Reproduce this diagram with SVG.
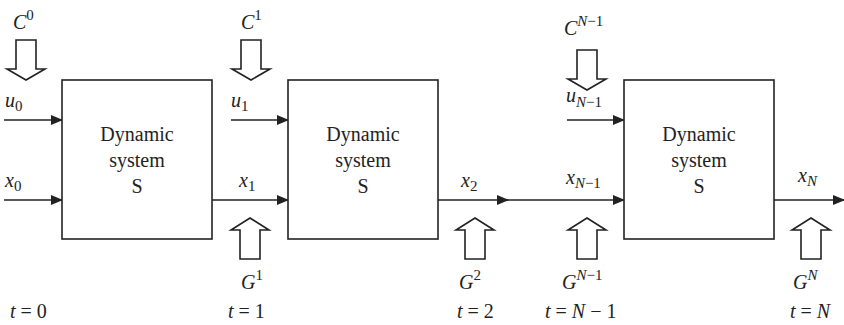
<svg xmlns="http://www.w3.org/2000/svg" width="844" height="325" viewBox="0 0 844 325">
<style>
.box{fill:#fff;stroke:#222;stroke-width:1.6}
.ln{stroke:#222;stroke-width:1.5;fill:none}
.hol{fill:#fff;stroke:#222;stroke-width:1.6;stroke-linejoin:miter}
.t{font-family:"Liberation Serif","Times New Roman",serif;font-size:20px;fill:#222;text-anchor:middle}
.v{font-family:"Liberation Serif","Times New Roman",serif;font-size:20px;font-style:italic;fill:#222}
.s{font-size:15px;font-style:normal}
.si{font-size:15px}
.up{font-style:normal}
</style>
<defs>
<marker id="ah" markerWidth="12" markerHeight="10" refX="11" refY="5" orient="auto" markerUnits="userSpaceOnUse">
<path d="M0,0 L12,5 L0,10 Z" fill="#222"/>
</marker>
<polygon id="down" points="-10,0 10,0 10,29 19,29 0,40 -19,29 -10,29"/>
<polygon id="upa" points="0,0 19,12 10,12 10,41 -10,41 -10,12 -19,12"/>
</defs>
<g id="connectors">
<line class="ln" x1="4" y1="120" x2="62" y2="120" marker-end="url(#ah)"/>
<line class="ln" x1="4" y1="200" x2="62" y2="200" marker-end="url(#ah)"/>
<line class="ln" x1="231" y1="120" x2="288" y2="120" marker-end="url(#ah)"/>
<line class="ln" x1="212" y1="200" x2="288" y2="200" marker-end="url(#ah)"/>
<line class="ln" x1="438" y1="200" x2="508" y2="200" marker-end="url(#ah)"/>
<line class="ln" x1="506" y1="200" x2="624" y2="200" marker-end="url(#ah)"/>
<line class="ln" x1="567" y1="120" x2="624" y2="120" marker-end="url(#ah)"/>
<line class="ln" x1="774" y1="200" x2="844" y2="200" marker-end="url(#ah)"/>
<use href="#down" class="hol" x="26" y="40"/>
<use href="#down" class="hol" x="251" y="40"/>
<use href="#down" class="hol" x="587" y="50"/>
<use href="#upa" class="hol" x="250" y="218"/>
<use href="#upa" class="hol" x="475" y="218"/>
<use href="#upa" class="hol" x="587" y="218"/>
<use href="#upa" class="hol" x="811" y="218"/>
</g>
<g id="node1">
<rect class="box" x="62" y="80" width="150" height="159"/>
<text class="t" x="137" y="141">Dynamic</text>
<text class="t" x="137" y="167">system</text>
<text class="t" x="137" y="193">S</text>
</g>
<g id="node2">
<rect class="box" x="288" y="80" width="150" height="159"/>
<text class="t" x="363" y="141">Dynamic</text>
<text class="t" x="363" y="167">system</text>
<text class="t" x="363" y="193">S</text>
</g>
<g id="node3">
<rect class="box" x="624" y="80" width="150" height="159"/>
<text class="t" x="699" y="141">Dynamic</text>
<text class="t" x="699" y="167">system</text>
<text class="t" x="699" y="193">S</text>
</g>
<g id="labels">
<text class="v" x="13" y="29">C<tspan class="s" dy="-9">0</tspan></text>
<text class="v" x="241" y="29">C<tspan class="s" dy="-9">1</tspan></text>
<text class="v" x="564" y="35">C<tspan class="si" dy="-9">N</tspan><tspan class="s">−1</tspan></text>
<text class="v" x="5" y="107">u<tspan class="s" dy="4">0</tspan></text>
<text class="v" x="231" y="107">u<tspan class="s" dy="4">1</tspan></text>
<text class="v" x="566" y="102">u<tspan class="si" dy="5">N</tspan><tspan class="s">−1</tspan></text>
<text class="v" x="5" y="187">x<tspan class="s" dy="4">0</tspan></text>
<text class="v" x="239" y="187">x<tspan class="s" dy="4">1</tspan></text>
<text class="v" x="461" y="187">x<tspan class="s" dy="4">2</tspan></text>
<text class="v" x="566" y="184">x<tspan class="si" dy="4">N</tspan><tspan class="s">−1</tspan></text>
<text class="v" x="798" y="182">x<tspan class="si" dy="4">N</tspan></text>
<text class="v" x="241" y="289">G<tspan class="s" dy="-9">1</tspan></text>
<text class="v" x="459" y="289">G<tspan class="s" dy="-9">2</tspan></text>
<text class="v" x="562" y="289">G<tspan class="si" dy="-9">N</tspan><tspan class="s">−1</tspan></text>
<text class="v" x="793" y="289">G<tspan class="si" dy="-9">N</tspan></text>
<text class="v" x="10" y="318">t<tspan class="up"> = 0</tspan></text>
<text class="v" x="228" y="318">t<tspan class="up"> = 1</tspan></text>
<text class="v" x="457" y="318">t<tspan class="up"> = 2</tspan></text>
<text class="v" x="545" y="318">t<tspan class="up"> = </tspan>N<tspan class="up"> − 1</tspan></text>
<text class="v" x="790" y="318">t<tspan class="up"> = </tspan>N</text>
</g>
</svg>
